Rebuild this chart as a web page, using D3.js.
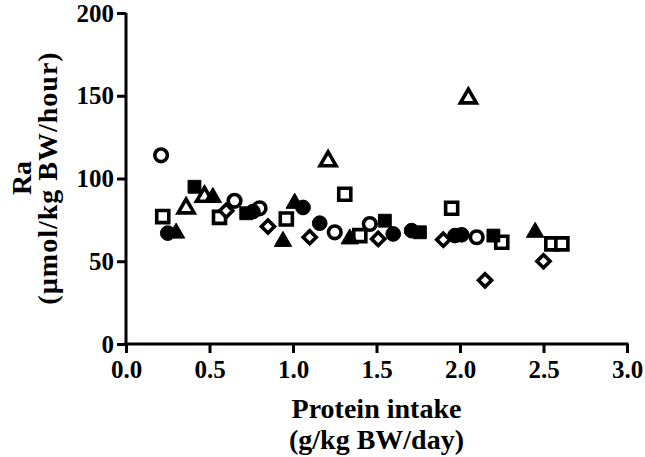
<!DOCTYPE html>
<html><head><meta charset="utf-8">
<script src="https://cdn.jsdelivr.net/npm/d3@7"></script>
<style>body{margin:0;background:#fff}svg{display:block}text{font-family:"Liberation Serif","Times New Roman",serif;font-weight:bold;fill:#000}</style>
</head><body>
<script>
const openCircle   = [[0.21,114],[0.65,86.5],[0.80,82],[1.25,67.5],[1.46,72.5],[2.10,64.5]];
const filledCircle = [[0.25,67],[0.76,80],[1.06,82.5],[1.16,73],[1.60,66.5],[1.71,68.5],[1.97,65.5],[2.01,66]];
const openSquare   = [[0.22,77],[0.56,76.5],[0.96,75.5],[1.31,90.5],[1.40,65.5],[1.95,82],[2.25,61.5],[2.55,60.5],[2.61,60.5]];
const filledSquare = [[0.41,95],[0.72,79],[1.55,74.5],[1.76,67.5],[2.20,65.5]];
const openTriangle = [[0.36,82],[0.47,89],[1.21,110.5],[2.05,148.5]];
const filledTriangle = [[0.30,67],[0.52,88.5],[0.94,62],[1.01,85],[1.34,63.5],[2.45,67.5]];
const openDiamond  = [[0.60,80.5],[0.85,71],[1.10,64.5],[1.51,63.5],[1.90,63],[2.15,38.5],[2.50,50]];
const xTicks = [0,0.5,1,1.5,2,2.5,3];
const yTicks = [0,50,100,150,200];

const W=645,H=457, L=126, T=13, R=627, B=344;
const svg=d3.select("body").append("svg").attr("width",W).attr("height",H);
const x=d3.scaleLinear().domain([0,3]).range([L,R]);
const y=d3.scaleLinear().domain([0,200]).range([B,T]);

const series=[
 {d:openCircle, sym:d3.symbolCircle, size:125, fill:false},
 {d:filledCircle, sym:d3.symbolCircle, size:170, fill:true},
 {d:openSquare, sym:d3.symbolSquare, size:145, fill:false},
 {d:filledSquare, sym:d3.symbolSquare, size:165, fill:true},
 {d:openTriangle, sym:d3.symbolTriangle, size:110, fill:false},
 {d:filledTriangle, sym:d3.symbolTriangle, size:130, fill:true},
 {d:openDiamond, sym:d3.symbolDiamond2, size:110, fill:false},
];
series.forEach(s=>{
  svg.append("g").selectAll("path").data(s.d).join("path")
   .attr("transform",d=>`translate(${x(d[0])},${y(d[1])})`)
   .attr("d",d3.symbol(s.sym,s.size))
   .attr("fill",s.fill?"#000":"#fff")
   .attr("stroke","#000").attr("stroke-width",s.fill?1:3.6)
   .attr("stroke-linejoin","miter");
});

const gx=svg.append("g").attr("transform",`translate(0,${B})`)
  .call(d3.axisBottom(x).tickValues(xTicks).tickFormat(d3.format(".1f")).tickSize(9).tickPadding(7));
const gy=svg.append("g").attr("transform",`translate(${L},0)`)
  .call(d3.axisLeft(y).tickValues(yTicks).tickSize(9).tickPadding(3));
[gx,gy].forEach(g=>{
  g.select(".domain").attr("stroke","#000").attr("stroke-width",3);
  g.selectAll(".tick line").attr("stroke","#000").attr("stroke-width",3);
  g.selectAll(".tick text").attr("font-size",25).attr("font-family","Liberation Serif").attr("font-weight","bold").attr("fill","#000");
});
gx.select(".domain").attr("d",`M${L-1.5},0H${R+1.5}`);
gy.select(".domain").attr("d",`M0,${T}V${B+1.5}`);

svg.append("text").attr("x",(L+R)/2).attr("y",418).attr("text-anchor","middle").attr("font-size",28).text("Protein intake");
svg.append("text").attr("x",(L+R)/2).attr("y",449).attr("text-anchor","middle").attr("font-size",28).text("(g/kg BW/day)");
svg.append("text").attr("transform","translate(31,178) rotate(-90)").attr("text-anchor","middle").attr("font-size",28).text("Ra");
svg.append("text").attr("transform","translate(57,178) rotate(-90)").attr("text-anchor","middle").attr("font-size",28).attr("letter-spacing",1).text("(µmol/kg BW/hour)");
</script>
</body></html>
